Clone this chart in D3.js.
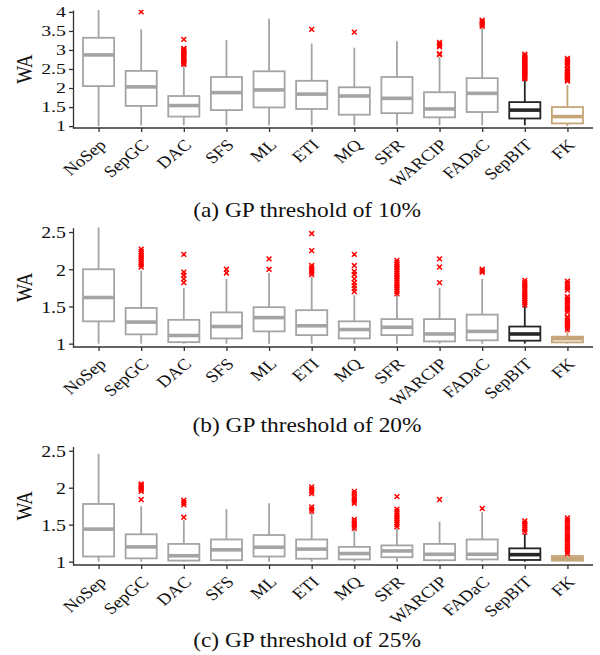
<!DOCTYPE html>
<html>
<head>
  <meta charset="utf-8">
  <script src="https://d3js.org/d3.v7.min.js"></script>
  <style>
    body { margin: 0; background: #fff; font-family: 'Liberation Serif', 'Times New Roman', serif; }
  </style>
</head>
<body>
  <div id="my_dataviz"></div>
  <script>
    // categories and tick labels
    var cats = ["NoSep", "SepGC", "DAC", "SFS", "ML", "ETI", "MQ", "SFR", "WARCIP", "FADaC", "SepBIT", "FK"];
    var ticks10 = [1, 1.5, 2, 2.5, 3, 3.5, 4];
    var ticks20 = [1, 1.5, 2, 2.5];
    var ticks25 = [1, 1.5, 2, 2.5];

    // GP threshold 10%
    var lo10  = [1.0, 1.02, 1.02, 1.02, 1.02, 1.02, 1.02, 1.02, 1.02, 1.02, 1.02, 1.0];
    var q1_10 = [2.05, 1.53, 1.25, 1.42, 1.49, 1.45, 1.30, 1.34, 1.23, 1.37, 1.20, 1.07];
    var med10 = [2.87, 2.03, 1.54, 1.88, 1.95, 1.84, 1.79, 1.73, 1.45, 1.86, 1.42, 1.25];
    var q3_10 = [3.32, 2.45, 1.79, 2.29, 2.44, 2.19, 2.02, 2.29, 1.89, 2.26, 1.63, 1.50];
    var hi10  = [4.3, 3.54, 2.60, 3.26, 3.82, 3.17, 3.06, 3.23, 2.82, 3.58, 2.21, 2.08];
    var out10 = [
      [],
      [4.0],
      [2.62, 2.65, 2.68, 2.71, 2.74, 2.77, 2.80, 2.83, 2.86, 2.89, 2.92, 2.95, 2.98, 3.01, 3.04, 3.28],
      [],
      [],
      [3.54],
      [3.47],
      [],
      [2.88, 2.90, 3.08, 3.12, 3.16, 3.20],
      [3.62, 3.66, 3.70, 3.74, 3.78],
      [2.24, 2.27, 2.30, 2.33, 2.36, 2.39, 2.42, 2.45, 2.48, 2.51, 2.54, 2.57, 2.60, 2.63, 2.66, 2.69, 2.72, 2.75, 2.78, 2.81, 2.85, 2.89],
      [2.18, 2.21, 2.24, 2.27, 2.30, 2.33, 2.36, 2.39, 2.42, 2.45, 2.50, 2.58, 2.62, 2.66, 2.70, 2.74, 2.78]
    ];

    // GP threshold 20%
    var lo20  = [1.0, 1.0, 1.0, 1.0, 1.0, 1.0, 1.0, 1.0, 1.0, 1.0, 1.0, 1.0];
    var q1_20 = [1.30, 1.125, 1.02, 1.07, 1.165, 1.115, 1.07, 1.115, 1.03, 1.045, 1.04, 1.017];
    var med20 = [1.62, 1.29, 1.11, 1.23, 1.35, 1.24, 1.19, 1.22, 1.13, 1.165, 1.13, 1.067];
    var q3_20 = [2.00, 1.48, 1.32, 1.42, 1.49, 1.45, 1.30, 1.33, 1.33, 1.39, 1.23, 1.094];
    var hi20  = [2.7, 1.98, 1.75, 1.87, 1.95, 1.90, 1.65, 1.65, 1.75, 1.87, 1.505, 1.17];
    var out20 = [
      [],
      [2.03, 2.06, 2.09, 2.12, 2.15, 2.18, 2.21, 2.24, 2.27],
      [1.82, 1.87, 1.92, 1.96, 2.20],
      [1.95, 2.00],
      [2.00, 2.14],
      [1.93, 1.96, 1.99, 2.02, 2.05, 2.25, 2.48],
      [1.70, 1.74, 1.78, 1.82, 1.87, 1.93, 1.97, 2.05, 2.20],
      [1.67, 1.70, 1.73, 1.76, 1.79, 1.82, 1.85, 1.88, 1.91, 1.94, 1.97, 2.00, 2.03, 2.06, 2.09, 2.12],
      [1.82, 2.03, 2.14],
      [1.96, 1.98, 2.00],
      [1.52, 1.55, 1.58, 1.61, 1.64, 1.67, 1.70, 1.73, 1.76, 1.79, 1.82, 1.85],
      [1.19, 1.22, 1.25, 1.28, 1.31, 1.34, 1.36, 1.42, 1.45, 1.48, 1.51, 1.54, 1.57, 1.60, 1.63, 1.72, 1.75, 1.78, 1.81, 1.84]
    ];

    // GP threshold 25%
    var lo25  = [1.0, 1.0, 1.0, 1.0, 1.0, 1.0, 1.0, 1.0, 1.0, 1.0, 1.0, 1.0];
    var q1_25 = [1.07, 1.045, 1.015, 1.02, 1.07, 1.04, 1.03, 1.06, 1.02, 1.03, 1.023, 1.014];
    var med25 = [1.44, 1.20, 1.08, 1.16, 1.195, 1.17, 1.11, 1.145, 1.10, 1.10, 1.095, 1.04];
    var q3_25 = [1.78, 1.37, 1.24, 1.30, 1.36, 1.30, 1.20, 1.22, 1.24, 1.30, 1.18, 1.077];
    var hi25  = [2.46, 1.75, 1.56, 1.71, 1.79, 1.66, 1.44, 1.45, 1.54, 1.675, 1.374, 1.09];
    var out25 = [
      [],
      [1.84, 1.95, 1.97, 1.99, 2.01, 2.03, 2.05],
      [1.60, 1.77, 1.80, 1.83],
      [],
      [],
      [1.68, 1.71, 1.74, 1.92, 1.95, 1.98, 2.01],
      [1.45, 1.48, 1.51, 1.54, 1.57, 1.79, 1.82, 1.85, 1.88, 1.92, 1.95],
      [1.47, 1.50, 1.53, 1.56, 1.59, 1.62, 1.65, 1.68, 1.71, 1.88],
      [1.84],
      [1.72],
      [1.40, 1.43, 1.46, 1.49, 1.52, 1.55],
      [1.11, 1.14, 1.17, 1.20, 1.23, 1.26, 1.29, 1.32, 1.35, 1.38, 1.41, 1.44, 1.47, 1.50, 1.53, 1.56, 1.59]
    ];

    var captions = ["(a) GP threshold of 10%", "(b) GP threshold of 20%", "(c) GP threshold of 25%"];

    // layout of the three panels
    var panels = [
      { lo: lo10, q1: q1_10, med: med10, q3: q3_10, hi: hi10, out: out10, ticks: ticks10,
        domain: [0.95, 4.05], range: [128, 10], capY: 217, tickScale: 0.8 },
      { lo: lo20, q1: q1_20, med: med20, q3: q3_20, hi: hi20, out: out20, ticks: ticks20,
        domain: [0.955, 2.56], range: [347, 227.6], capY: 432, tickScale: 1 },
      { lo: lo25, q1: q1_25, med: med25, q3: q3_25, hi: hi25, out: out25, ticks: ticks25,
        domain: [0.955, 2.557], range: [565, 446.5], capY: 647, tickScale: 1 }
    ];

    var W = 600, H = 655;
    var left = 73, right = 593;
    var stretch = 1.17;
    var serif = "'Liberation Serif', 'Times New Roman', serif";

    var svg = d3.select("#my_dataviz")
      .append("svg")
      .attr("width", W)
      .attr("height", H)
      .style("font-family", serif);

    var x = d3.scalePoint()
      .domain(cats)
      .range([left, right])
      .padding(0.6);
    var bw = x.step() * 0.73;

    function boxColor(c) {
      if (c === "SepBIT") return "#262626";
      if (c === "FK") return "#c6a678";
      return "#a4a4a4";
    }

    panels.forEach(function (p, pi) {
      var y = d3.scaleLinear().domain(p.domain).range(p.range);
      var g = svg.append("g");

      // clip for marks
      var clipId = "clip" + pi;
      svg.append("clipPath").attr("id", clipId)
        .append("rect")
        .attr("x", left).attr("y", p.range[1])
        .attr("width", right - left).attr("height", p.range[0] - p.range[1]);

      var marks = g.append("g").attr("clip-path", "url(#" + clipId + ")");

      var rows = cats.map(function (c, i) {
        return { cat: c, lo: p.lo[i], q1: p.q1[i], med: p.med[i], q3: p.q3[i], hi: p.hi[i], out: p.out[i] };
      });

      var box = marks.selectAll(".box")
        .data(rows)
        .enter()
        .append("g")
        .attr("class", "box");

      // whiskers
      box.append("line")
        .attr("x1", function (d) { return x(d.cat); })
        .attr("x2", function (d) { return x(d.cat); })
        .attr("y1", function (d) { return y(d.q3); })
        .attr("y2", function (d) { return y(d.hi); })
        .attr("stroke", function (d) { return boxColor(d.cat); })
        .attr("stroke-width", 1.8);
      box.append("line")
        .attr("x1", function (d) { return x(d.cat); })
        .attr("x2", function (d) { return x(d.cat); })
        .attr("y1", function (d) { return y(d.q1); })
        .attr("y2", function (d) { return y(d.lo); })
        .attr("stroke", function (d) { return boxColor(d.cat); })
        .attr("stroke-width", 1.8);

      // boxes
      box.append("rect")
        .attr("x", function (d) { return x(d.cat) - bw / 2; })
        .attr("width", bw)
        .attr("y", function (d) { return y(d.q3); })
        .attr("height", function (d) { return y(d.q1) - y(d.q3); })
        .attr("fill", "#fff")
        .attr("stroke", function (d) { return boxColor(d.cat); })
        .attr("stroke-width", 1.8);

      // medians
      box.append("line")
        .attr("x1", function (d) { return x(d.cat) - bw / 2; })
        .attr("x2", function (d) { return x(d.cat) + bw / 2; })
        .attr("y1", function (d) { return y(d.med); })
        .attr("y2", function (d) { return y(d.med); })
        .attr("stroke", function (d) { return boxColor(d.cat); })
        .attr("stroke-width", 3.6);

      // outliers as red crosses
      var pts = [];
      rows.forEach(function (d) {
        d.out.forEach(function (v) { pts.push({ cat: d.cat, v: v }); });
      });
      var s = 2.4;
      marks.append("g").selectAll("path")
        .data(pts)
        .enter()
        .append("path")
        .attr("d", function (d) {
          var cx = x(d.cat), cy = y(d.v);
          return "M" + (cx - s) + "," + (cy - s) + "L" + (cx + s) + "," + (cy + s) +
                 "M" + (cx - s) + "," + (cy + s) + "L" + (cx + s) + "," + (cy - s);
        })
        .attr("stroke", "#ff0000")
        .attr("stroke-width", 1.5)
        .attr("fill", "none");

      // y axis
      var yAxis = g.append("g")
        .attr("transform", "translate(" + left + ",0)")
        .call(d3.axisLeft(y).tickValues(p.ticks).tickSize(4).tickSizeOuter(0).tickFormat(d3.format("")));
      yAxis.attr("font-family", serif);
      yAxis.select(".domain").attr("stroke", "#333").attr("stroke-width", 1.3);
      yAxis.selectAll(".tick line").attr("stroke", "#333").attr("stroke-width", 1.3);
      yAxis.selectAll(".tick text")
        .attr("x", null)
        .attr("transform", "translate(-7,0) scale(" + stretch + "," + p.tickScale + ")")
        .attr("dy", "0.34em")
        .attr("fill", "#111")
        .style("font-size", "17px");

      // x axis
      var xAxis = g.append("g")
        .attr("transform", "translate(0," + p.range[0] + ")")
        .call(d3.axisBottom(x).tickSize(4).tickSizeOuter(0));
      xAxis.attr("font-family", serif);
      xAxis.select(".domain")
        .attr("d", "M" + left + ",0H" + right)
        .attr("stroke", "#333").attr("stroke-width", 1.3);
      xAxis.selectAll(".tick line").attr("stroke", "#333").attr("stroke-width", 1.3);
      xAxis.selectAll(".tick text")
        .attr("y", null).attr("dy", "0.7em")
        .attr("text-anchor", "end")
        .attr("transform", "translate(-1,10) scale(" + stretch + ",1) rotate(-44)")
        .attr("fill", "#111")
        .style("font-size", "16px");

      // y title
      var midY = (p.range[0] + p.range[1]) / 2;
      g.append("text")
        .attr("transform", "translate(32," + midY + ") rotate(-90) scale(1," + stretch + ")")
        .attr("text-anchor", "middle")
        .attr("fill", "#111")
        .style("font-size", "19px")
        .text("WA");

      // caption
      g.append("text")
        .attr("transform", "translate(307," + p.capY + ") scale(" + stretch + ",1)")
        .attr("text-anchor", "middle")
        .attr("fill", "#111")
        .style("font-size", "20px")
        .text(captions[pi]);
    });
  </script>
</body>
</html>
